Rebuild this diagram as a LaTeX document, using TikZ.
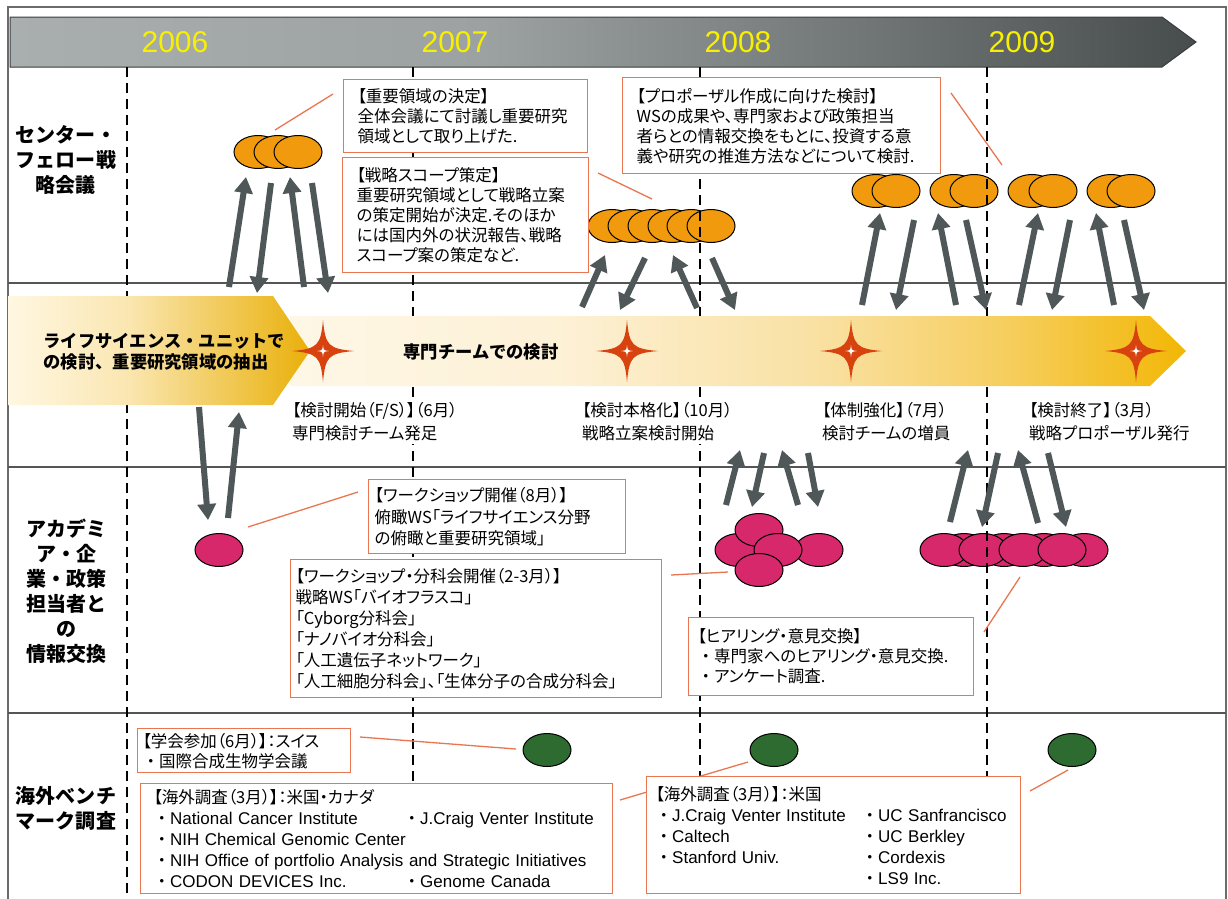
\documentclass[tikz,border=0pt]{standalone}
\usepackage{fontspec}
\setmainfont{Noto Sans CJK JP}[RawFeature=+palt]
\newfontfamily\jpm{Noto Sans CJK JP}
\newfontfamily\en{Liberation Sans}
\usetikzlibrary{arrows.meta,shapes.geometric}
\definecolor{hdrA}{HTML}{A9AEAE}
\definecolor{hdrB}{HTML}{9CA1A1}
\definecolor{hdrC}{HTML}{6E7474}
\definecolor{hdrD}{HTML}{474C4D}
\definecolor{bnA}{HTML}{FEF7E6}
\definecolor{bnB}{HTML}{FDF1D6}
\definecolor{bnC}{HTML}{F9E0A0}
\definecolor{bnD}{HTML}{F6CE5E}
\definecolor{bnE}{HTML}{F2B705}
\definecolor{pnA}{HTML}{FFF7E2}
\definecolor{pnB}{HTML}{FAE6B0}
\definecolor{pnC}{HTML}{E9B00A}
\definecolor{orangeE}{HTML}{F29A0E}
\definecolor{pinkE}{HTML}{D6286B}
\definecolor{greenE}{HTML}{2E6B30}
\definecolor{arrg}{HTML}{4F5758}
\definecolor{boxc}{HTML}{E97650}
\definecolor{starc}{HTML}{D8420E}
\definecolor{yearc}{HTML}{F8F000}
\definecolor{framec}{HTML}{6B6B6B}
\definecolor{rowc}{HTML}{555555}
\pgfdeclarehorizontalshading{hdrsh}{100bp}{color(0bp)=(hdrA); color(25bp)=(hdrA); color(45bp)=(hdrB); color(62bp)=(hdrC); color(75bp)=(hdrD); color(100bp)=(hdrD)}
\pgfdeclarehorizontalshading{bandsh}{100bp}{color(0bp)=(bnA); color(25bp)=(bnA); color(40bp)=(bnB); color(55bp)=(bnC); color(65bp)=(bnD); color(75bp)=(bnE); color(100bp)=(bnE)}
\pgfdeclarehorizontalshading{pentsh}{100bp}{color(0bp)=(pnA); color(25bp)=(pnA); color(45bp)=(pnB); color(75bp)=(pnC); color(100bp)=(pnC)}
\newcommand\garrow[3]{\coordinate (#1s) at (#2); \coordinate (#1e) at (#3); \draw[garr] (#1s) -- (#1e);}
\newcommand\callout[3]{\coordinate (#1s) at (#2); \coordinate (#1e) at (#3); \draw[cline] (#1s) -- (#1e);}
\newcommand\engl[1]{{\en\fontsize{17}{21}\selectfont #1}}
\newcommand\bul{{\jpm ・}}
\tikzset{sparkstar/.pic={
  \fill[starc] (0,-31) .. controls (2.3,-5.5) and (5.5,-2.3) .. (31,0) .. controls (5.5,2.3) and (2.3,5.5) .. (0,31) .. controls (-2.3,5.5) and (-5.5,2.3) .. (-31,0) .. controls (-5.5,-2.3) and (-2.3,-5.5) .. (0,-31) -- cycle;
  \fill[white] (0,-6) .. controls (0.6,-0.6) .. (6,0) .. controls (0.6,0.6) .. (0,6) .. controls (-0.6,0.6) .. (-6,0) .. controls (-0.6,-0.6) .. (0,-6) -- cycle;
}}
\begin{document}
\begin{tikzpicture}[x=1pt,y=-1pt,
  ell/.style={ellipse, draw=black, line width=1pt, minimum width=48pt, minimum height=33pt, inner sep=0pt},
  orng/.style={ell, fill=orangeE},
  pnk/.style={ell, fill=pinkE},
  grn/.style={ell, fill=greenE},
  garr/.style={draw=arrg, line width=6pt, -{Triangle[length=16pt,width=18pt]}},
  cline/.style={draw=boxc, line width=1.3pt},
  box/.style={draw=boxc, line width=1.4pt, fill=white, inner ysep=0pt, align=left, anchor=north west, font=\fontsize{16.5}{20}\selectfont},
  rowlab/.style={align=center, font=\jpm\bfseries\fontsize{20}{25}\selectfont},
  bandtxt/.style={align=left, font=\jpm\bfseries\fontsize{17.3}{21}\selectfont},
  starlab/.style={anchor=west, align=left, fill=white, inner xsep=2pt, inner ysep=3pt, font=\fontsize{16.5}{23}\selectfont},
  year/.style={text=yearc, font=\en\fontsize{30}{30}\selectfont},
  dashln/.style={draw=black, line width=1.6pt, dash pattern=on 10pt off 6pt},
  rowline/.style={draw=rowc, line width=1.6pt}
]
\useasboundingbox (0,0) rectangle (1228,898);
\fill[white] (0,0) rectangle (1228,898);
% frame and row lines
\draw[framec, line width=1.5pt] (8,899) -- (8,7) -- (1226,7) -- (1226,899);
\foreach \yy in {283,467,713} \draw[rowline] (8,\yy) -- (1226,\yy);
% header arrow
\shadedraw[shading=hdrsh, draw=hdrD!80!black, line width=1pt] (10,17) -- (1162,17) -- (1196,42) -- (1162,67) -- (10,67) -- cycle;
\node[year] (y2006) at (175,42) {2006};
\node[year] (y2007) at (455,42) {2007};
\node[year] (y2008) at (738,42) {2008};
\node[year] (y2009) at (1022,42) {2009};
% orange ellipses
\node[orng] (o1a) at (258,152) {};
\node[orng] (o1b) at (278,152) {};
\node[orng] (o1c) at (298,152) {};
\node[orng] (o2a) at (612,226) {};
\node[orng] (o2b) at (632,226) {};
\node[orng] (o2c) at (652,226) {};
\node[orng] (o2d) at (672,226) {};
\node[orng] (o2e) at (691,226) {};
\node[orng] (o2f) at (711,226) {};
\node[orng] (p1a) at (876,191) {};
\node[orng] (p1b) at (896,191) {};
\node[orng] (p2a) at (954,191) {};
\node[orng] (p2b) at (974,191) {};
\node[orng] (p3a) at (1032,191) {};
\node[orng] (p3b) at (1053,191) {};
\node[orng] (p4a) at (1111,191) {};
\node[orng] (p4b) at (1131,191) {};
% pink ellipses
\node[pnk] (k0) at (219,550) {};
\node[pnk] (k1l) at (739,550) {};
\node[pnk] (k1r) at (819,550) {};
\node[pnk] (k1t) at (759,530) {};
\node[pnk] (k1m) at (778,550) {};
\node[pnk] (k1b) at (759,570) {};
\node[pnk] (k2b1) at (964,550) {};
\node[pnk] (k2b2) at (1004,550) {};
\node[pnk] (k2b3) at (1044,550) {};
\node[pnk] (k2b4) at (1084,550) {};
\node[pnk] (k2f1) at (944,550) {};
\node[pnk] (k2f2) at (983,550) {};
\node[pnk] (k2f3) at (1023,550) {};
\node[pnk] (k2f4) at (1062,550) {};
% green ellipses
\node[grn] (g1) at (547,750) {};
\node[grn] (g2) at (774,750) {};
\node[grn] (g3) at (1072,750) {};
% dashed year lines
\foreach \xx in {127,413,700,987} \draw[dashln] (\xx,67) -- (\xx,898);
% process band
\shade[shading=bandsh] (290,316) -- (1150,316) -- (1186,351) -- (1150,386) -- (290,386) -- cycle;
\shade[shading=pentsh] (8,296) -- (273,296) -- (310,351) -- (273,405) -- (8,405) -- cycle;
\pic (s1) at (323,351) {sparkstar};
\pic (s2) at (627,351) {sparkstar};
\pic (s3) at (851,351) {sparkstar};
\pic (s4) at (1136,351) {sparkstar};
\node[bandtxt, anchor=west] (t1) at (40,352) {ライフサイエンス・ユニットで\\の検討、重要研究領域の抽出};
\node[bandtxt] (t2) at (481,352) {専門チームでの検討};
% milestone labels
\node[starlab] (m1) at (290,422) {【検討開始（F/S）】（6月）\\専門検討チーム発足};
\node[starlab] (m2) at (580,422) {【検討本格化】（10月）\\戦略立案検討開始};
\node[starlab] (m3) at (820,422) {【体制強化】（7月）\\検討チームの増員};
\node[starlab] (m4) at (1027,422) {【検討終了】（3月）\\戦略プロポーザル発行};
% callout lines
\callout{c1}{275,130}{333,94}
\callout{c2}{598,173}{652,199}
\callout{c3}{951,93}{1002,165}
\callout{c4}{248,527}{358,492}
\callout{c5}{671,575}{728,572}
\callout{c6}{984,632}{1020,577}
\callout{c7}{360,737}{516,749}
\callout{c8}{620,800}{748,762}
\callout{c9}{1030,791}{1068,770}
% boxes
\node[box, minimum width=244pt, minimum height=73pt, text width=216pt, inner xsep=14pt] (bx1) at (343,79)
 {【重要領域の決定】\\全体会議にて討議し重要研究\\領域として取り上げた.};
\node[box, minimum width=246pt, minimum height=115pt, text width=218pt, inner xsep=14pt] (bx2) at (342,157)
 {【戦略スコープ策定】\\重要研究領域として戦略立案\\の策定開始が決定.そのほか\\には国内外の状況報告、戦略\\スコープ案の策定など.};
\node[box, minimum width=318pt, minimum height=96pt, text width=290pt, inner xsep=14pt] (bx3) at (622,77)
 {【プロポーザル作成に向けた検討】\\WSの成果や、専門家および政策担当\\者らとの情報交換をもとに、投資する意\\義や研究の推進方法などについて検討.};
\node[box, minimum width=257pt, minimum height=74pt, text width=245pt, inner xsep=6pt, font=\fontsize{16.5}{21.5}\selectfont] (bx4) at (368,479)
 {【ワークショップ開催（8月）】\\俯瞰WS「ライフサイエンス分野\\の俯瞰と重要研究領域」};
\node[box, minimum width=371pt, minimum height=138pt, text width=361pt, inner xsep=5pt, font=\fontsize{16.5}{21}\selectfont] (bx5) at (290,559)
 {【ワークショップ・分科会開催（2-3月）】\\戦略WS「バイオフラスコ」\\「Cyborg分科会」\\「ナノバイオ分科会」\\「人工遺伝子ネットワーク」\\「人工細胞分科会」、「生体分子の合成分科会」};
\node[box, minimum width=285pt, minimum height=78pt, text width=267pt, inner xsep=9pt] (bx6) at (688,617)
 {【ヒアリング・意見交換】\\\bul 専門家へのヒアリング・意見交換.\\\bul アンケート調査.};
\node[box, minimum width=213pt, minimum height=44pt, text width=203pt, inner xsep=5pt] (bx7) at (137,728)
 {【学会参加（6月）】：スイス\\\bul 国際合成生物学会議};
\node[box, minimum width=472pt, minimum height=110pt, text width=446pt, inner xsep=13pt, font=\fontsize{16.5}{21}\selectfont] (bx8) at (140,783)
 {【海外調査（3月）】：米国・カナダ\\
  \makebox[250pt][l]{\bul\engl{National Cancer Institute}}\bul\engl{J.Craig Venter Institute}\\
  \bul\engl{NIH Chemical Genomic Center}\\
  \bul\engl{NIH Office of portfolio Analysis and Strategic Initiatives}\\
  \makebox[250pt][l]{\bul\engl{CODON DEVICES Inc.}}\bul\engl{Genome Canada}};
\node[box, minimum width=374pt, minimum height=117pt, text width=356pt, inner xsep=9pt, font=\fontsize{16.5}{21}\selectfont] (bx9) at (646,776)
 {【海外調査（3月）】：米国\\
  \makebox[206pt][l]{\bul\engl{J.Craig Venter Institute}}\bul\engl{UC Sanfrancisco}\\
  \makebox[206pt][l]{\bul\engl{Caltech}}\bul\engl{UC Berkley}\\
  \makebox[206pt][l]{\bul\engl{Stanford Univ.}}\bul\engl{Cordexis}\\
  \makebox[206pt][l]{}\bul\engl{LS9 Inc.}};
% arrows
\garrow{a1}{229,287}{246,177}
\garrow{a2}{271,183}{257,293}
\garrow{a3}{304,287}{290,177}
\garrow{a4}{312,183}{328,293}
\garrow{b1}{582,307}{605,255}
\garrow{b2}{645,258}{620,310}
\garrow{b3}{697,308}{673,255}
\garrow{b4}{712,258}{735,310}
\garrow{c1a}{862,305}{880,213}
\garrow{c2a}{914,220}{896,310}
\garrow{c3a}{956,305}{938,213}
\garrow{c4a}{966,220}{986,310}
\garrow{c5a}{1019,305}{1038,213}
\garrow{c6a}{1070,220}{1052,310}
\garrow{c7a}{1114,305}{1096,213}
\garrow{c8a}{1124,220}{1144,310}
\garrow{d1}{199,407}{208,520}
\garrow{d2}{228,518}{239,412}
\garrow{e1}{726,505}{740,450}
\garrow{e2}{764,453}{752,507}
\garrow{e3}{798,505}{782,450}
\garrow{e4}{808,453}{818,507}
\garrow{f1}{950,522}{968,450}
\garrow{f2}{998,453}{982,527}
\garrow{f3}{1038,523}{1018,450}
\garrow{f4}{1048,453}{1066,527}
% row labels
\node[rowlab] (lab1) at (66,160) {センター・\\フェロー戦\\略会議};
\node[rowlab] (lab3) at (66,591) {アカデミ\\ア・企\\業・政策\\担当者と\\の\\情報交換};
\node[rowlab] (lab4) at (66,808) {海外ベンチ\\マーク調査};
\end{tikzpicture}
\end{document}
